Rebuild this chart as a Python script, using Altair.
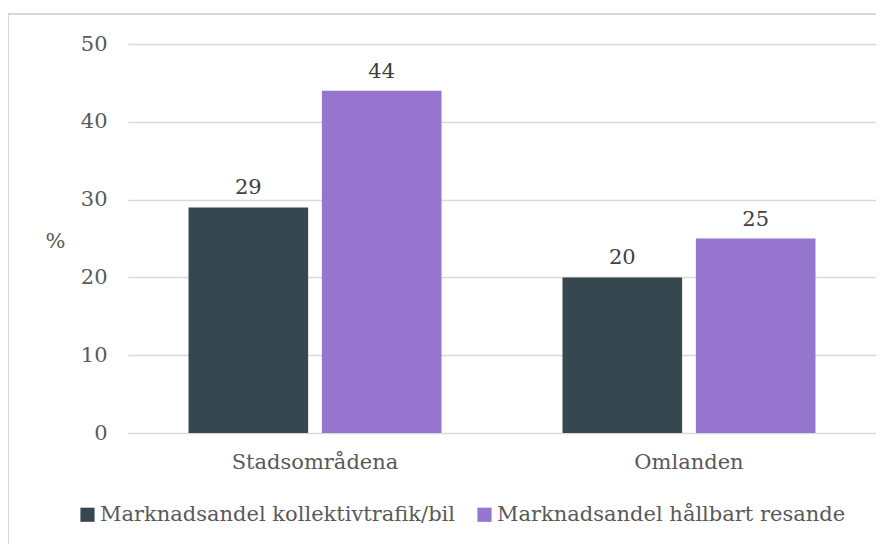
import altair as alt
import pandas as pd

groups = ["Stadsområdena", "Omlanden"]
series = ["Marknadsandel kollektivtrafik/bil", "Marknadsandel hållbart resande"]
values = {
    "Marknadsandel kollektivtrafik/bil": [29, 20],
    "Marknadsandel hållbart resande": [44, 25],
}
colors = ["#37474F", "#9575CD"]
y_ticks = [0, 10, 20, 30, 40, 50]

rows = []
for s in series:
    for g, v in zip(groups, values[s]):
        rows.append({"grupp": g, "serie": s, "värde": v})
df = pd.DataFrame(rows)

FONT = "DejaVu Serif"
FS = 21
W, H = 748, 389

x_enc = alt.X("grupp:N", sort=groups,
              scale=alt.Scale(paddingInner=0.3235, paddingOuter=0.1618),
              axis=alt.Axis(title=None, labelAngle=0, ticks=False, domain=False,
                            labelFont=FONT, labelFontSize=FS, labelColor="#595959",
                            labelPadding=18))
xoff = alt.XOffset("serie:N", sort=series, scale=alt.Scale(paddingInner=0.103, paddingOuter=0))
y_enc = alt.Y("värde:Q", scale=alt.Scale(domain=[0, 50]),
              axis=alt.Axis(values=y_ticks, title="%", titleAngle=0, titleAlign="center",
                            titleBaseline="middle",
                            titleFont=FONT, titleFontSize=FS, titleFontWeight="normal",
                            titleColor="#595959", titleX=-73, titleY=197,
                            labelFont=FONT, labelFontSize=FS, labelColor="#595959",
                            labelPadding=21, ticks=False, domain=False,
                            gridColor="#D9D9D9", gridWidth=1.5))

bars = alt.Chart(df).mark_bar().encode(
    x=x_enc, xOffset=xoff, y=y_enc,
    color=alt.Color("serie:N", sort=series,
                    scale=alt.Scale(domain=series, range=colors),
                    legend=alt.Legend(title=None, orient="none", direction="horizontal",
                                      legendX=-51, legendY=H + 71,
                                      symbolType="square", symbolSize=200,
                                      symbolStrokeWidth=0, labelFont=FONT,
                                      labelFontSize=FS, labelColor="#595959",
                                      columnPadding=18, labelOffset=2,
                                      labelLimit=450)),
)

labels = alt.Chart(df).mark_text(dy=-19, font=FONT, fontSize=FS, color="#404040").encode(
    x=alt.X("grupp:N", sort=groups), xOffset=alt.XOffset("serie:N", sort=series),
    y="värde:Q", text="värde:Q",
)

border = alt.Chart(df).mark_rect(fill=None, stroke="#D9D9D9", strokeWidth=1.5).encode(
    x=alt.value(-120), x2=alt.value(W + 40), y=alt.value(-30), y2=alt.value(H + 140)
)

chart = alt.layer(border, bars, labels).properties(
    width=W, height=H,
    padding={"left": 120, "top": 36, "right": 0, "bottom": 111},
    autosize=alt.AutoSizeParams(type="none"),
).configure_view(stroke=None)

chart.save("out.html", embed_options={"renderer": "svg", "actions": False})
